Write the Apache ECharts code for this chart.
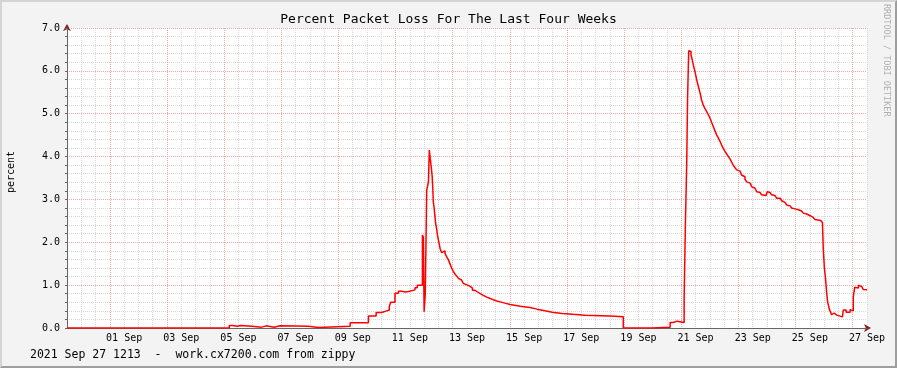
<!DOCTYPE html>
<html><head><meta charset="utf-8">
<script src="https://cdn.jsdelivr.net/npm/echarts@6/dist/echarts.min.js"></script>
<style>
html,body{margin:0;padding:0;background:#f3f3f3;}
#wrap{position:relative;width:897px;height:368px;}
#c{width:897px;height:368px;}
#frame{position:absolute;left:0;top:0;width:897px;height:368px;box-sizing:border-box;
  border-top:2px solid #d4d4d4;border-left:2px solid #d4d4d4;border-right:2px solid #9e9e9e;border-bottom:2px solid #9e9e9e;pointer-events:none;}
</style></head><body>
<div id="wrap"><div id="c"></div><div id="frame"></div></div>
<script>
const TITLE = 'Percent Packet Loss For The Last Four Weeks';
const Y_NAME = 'percent';
const FOOTER = '2021 Sep 27 1213  -  work.cx7200.com from zippy';
const WATERMARK = 'RRDTOOL / TOBI OETIKER';

// x unit: day of September 2021 (5.0 = 05 Sep 00:00, -0.5 = 30 Aug 12:00)
const xRange = [-0.5, 27.5];
const yRange = [0, 7];
const majorGridDays = [1, 3, 5, 7, 9, 11, 13, 15, 17, 19, 21, 23, 25, 27];
const labelDays = [1.5, 3.5, 5.5, 7.5, 9.5, 11.5, 13.5, 15.5, 17.5, 19.5, 21.5, 23.5, 25.5, 27.5];
const labelTexts = ['01 Sep', '03 Sep', '05 Sep', '07 Sep', '09 Sep', '11 Sep', '13 Sep',
                    '15 Sep', '17 Sep', '19 Sep', '21 Sep', '23 Sep', '25 Sep', '27 Sep'];

// [day, percent loss] — value holds from this time until the next point
const lossPoints = [
  [-0.5, 0], [5.18, 0.06], [5.29, 0.04], [5.46, 0.06], [5.58, 0.04], [5.96, 0.02], [6.31, 0.05],
  [6.47, 0.02], [6.75, 0.05], [6.96, 0.04], [7.95, 0.01], [8.30, 0.04], [9.41, 0.12], [10.05, 0.28],
  [10.32, 0.36], [10.51, 0.40], [10.69, 0.42], [10.78, 0.50], [10.83, 0.60], [10.98, 0.81],
  [11.10, 0.86], [11.21, 0.84], [11.33, 0.85], [11.45, 0.89], [11.68, 0.94], [11.76, 1.00],
  [11.94, 2.17], [11.97, 2.12], [12.00, 0.38], [12.04, 0.81], [12.09, 3.22], [12.15, 3.41],
  [12.18, 4.15], [12.23, 3.86], [12.25, 3.75], [12.28, 3.55], [12.30, 3.30], [12.32, 2.95],
  [12.35, 2.80], [12.38, 2.60], [12.40, 2.45], [12.44, 2.30], [12.47, 2.15], [12.50, 2.05],
  [12.53, 1.95], [12.56, 1.85], [12.61, 1.76], [12.67, 1.80], [12.73, 1.74], [12.79, 1.66],
  [12.85, 1.59], [12.91, 1.49], [12.96, 1.40], [13.02, 1.32], [13.08, 1.26], [13.14, 1.21],
  [13.20, 1.16], [13.26, 1.12], [13.31, 1.08], [13.37, 1.04], [13.43, 1.00], [13.52, 0.97],
  [13.61, 0.93], [13.69, 0.88], [13.78, 0.84], [13.87, 0.80], [13.96, 0.76], [14.07, 0.72],
  [14.19, 0.69], [14.31, 0.66], [14.42, 0.63], [14.54, 0.61], [14.66, 0.58], [14.83, 0.55],
  [15.01, 0.51], [15.36, 0.48], [15.71, 0.44], [15.95, 0.40], [16.23, 0.37], [16.48, 0.34],
  [16.83, 0.32], [17.21, 0.30], [17.63, 0.28], [18.51, 0.26], [18.97, 0], [19.96, 0.02],
  [20.61, 0.13], [20.72, 0.16], [20.85, 0.15], [20.92, 0.13], [21.10, 0.67], [21.14, 2.29],
  [21.19, 3.84], [21.22, 5.36], [21.26, 6.47], [21.31, 6.45], [21.34, 6.37], [21.38, 6.27],
  [21.42, 6.14], [21.48, 5.98], [21.54, 5.79], [21.60, 5.63], [21.66, 5.48], [21.71, 5.32],
  [21.77, 5.20], [21.83, 5.12], [21.89, 5.05], [21.95, 4.97], [22.01, 4.89], [22.06, 4.80],
  [22.12, 4.70], [22.18, 4.60], [22.24, 4.50], [22.30, 4.43], [22.36, 4.35], [22.41, 4.27],
  [22.47, 4.19], [22.53, 4.12], [22.59, 4.06], [22.65, 4.00], [22.71, 3.94], [22.76, 3.87],
  [22.82, 3.80], [22.88, 3.74], [22.94, 3.69], [23.00, 3.66], [23.06, 3.62], [23.11, 3.57],
  [23.17, 3.53], [23.23, 3.47], [23.29, 3.41], [23.35, 3.38], [23.41, 3.34], [23.46, 3.30],
  [23.52, 3.26], [23.58, 3.22], [23.64, 3.18], [23.70, 3.16], [23.76, 3.14], [23.81, 3.11],
  [23.87, 3.09], [23.97, 3.08], [24.01, 3.18], [24.06, 3.16], [24.11, 3.14], [24.16, 3.11],
  [24.22, 3.09], [24.28, 3.06], [24.34, 3.03], [24.46, 3.01], [24.51, 2.97], [24.57, 2.93],
  [24.63, 2.90], [24.69, 2.87], [24.75, 2.85], [24.81, 2.82], [24.86, 2.80], [24.92, 2.78],
  [24.98, 2.80], [25.04, 2.76], [25.10, 2.75], [25.16, 2.73], [25.21, 2.71], [25.27, 2.68],
  [25.33, 2.66], [25.39, 2.64], [25.45, 2.62], [25.51, 2.60], [25.56, 2.58], [25.62, 2.56],
  [25.68, 2.53], [25.74, 2.51], [25.88, 2.49], [25.94, 2.46], [25.97, 1.84], [26.01, 1.39],
  [26.05, 1.14], [26.09, 0.81], [26.12, 0.61], [26.16, 0.51], [26.18, 0.44], [26.23, 0.36],
  [26.26, 0.31], [26.30, 0.35], [26.35, 0.31], [26.38, 0.30], [26.44, 0.26], [26.64, 0.28],
  [26.67, 0.42], [26.77, 0.37], [26.91, 0.43], [26.96, 0.40], [27.02, 0.72], [27.07, 0.95],
  [27.14, 0.93], [27.20, 1.00], [27.26, 0.97], [27.31, 0.93], [27.37, 0.90], [27.43, 0.89],
  [27.50, 0.88]
];

const MONO = '"DejaVu Sans Mono", "Liberation Mono", monospace';
const MINOR = '#d8d8d8';
const MAJOR = '#f2a6a6';
const AXIS = '#666666';
const ARROW = '#7f1f1f';

function labelFor(v) {
  let best = 0;
  for (let i = 1; i < labelDays.length; i++) {
    if (Math.abs(labelDays[i] - v) < Math.abs(labelDays[best] - v)) best = i;
  }
  return labelTexts[best];
}

const chart = echarts.init(document.getElementById('c'), null, {renderer: 'canvas'});
chart.setOption({
  backgroundColor: '#f3f3f3',
  animation: false,
  title: [
    {text: TITLE, left: 'center', top: 13, padding: 0,
     textStyle: {fontFamily: MONO, fontSize: 13, fontWeight: 'normal', color: '#000'}},
    {text: FOOTER, left: 30, top: 349, padding: 0,
     textStyle: {fontFamily: MONO, fontSize: 11.5, fontWeight: 'normal', color: '#000'}}
  ],
  grid: {left: 67, top: 28, width: 800, height: 300, show: true, backgroundColor: '#ffffff', borderWidth: 0},
  xAxis: [
    {
      type: 'value', position: 'bottom', min: xRange[0], max: xRange[1], interval: 0.5, z: 0,
      axisLine: {show: true, onZero: false, lineStyle: {color: ARROW, width: 1},
                 symbol: ['none', 'arrow'], symbolSize: [6, 7], symbolOffset: [0, 4]},
      axisTick: {show: false}, axisLabel: {show: false},
      splitLine: {show: true, lineStyle: {color: MINOR, type: 'dotted', width: 1}}
    },
    {
      type: 'value', position: 'bottom', min: xRange[0], max: xRange[1], z: 2,
      axisLine: {show: true, onZero: false, lineStyle: {color: AXIS, width: 1}},
      axisTick: {show: false, customValues: majorGridDays},
      axisLabel: {show: true, customValues: labelDays, formatter: labelFor,
                  fontFamily: MONO, fontSize: 10, color: '#000', margin: 5},
      splitLine: {show: true, lineStyle: {color: MAJOR, type: 'dotted', width: 1}}
    }
  ],
  yAxis: [
    {
      type: 'value', position: 'left', min: yRange[0], max: yRange[1], interval: 0.2, z: 0,
      axisLine: {show: true, onZero: false, lineStyle: {color: ARROW, width: 1},
                 symbol: ['none', 'arrow'], symbolSize: [6, 7], symbolOffset: [0, 4]},
      axisTick: {show: true, length: 2, lineStyle: {color: AXIS}},
      axisLabel: {show: false},
      splitLine: {show: true, lineStyle: {color: MINOR, type: 'dotted', width: 1}}
    },
    {
      type: 'value', position: 'left', min: yRange[0], max: yRange[1], interval: 1, z: 1,
      axisLine: {show: true, onZero: false, lineStyle: {color: AXIS, width: 1}},
      axisTick: {show: true, length: 2, lineStyle: {color: AXIS}},
      axisLabel: {show: true, formatter: v => v.toFixed(1), fontFamily: MONO, fontSize: 10, color: '#000', margin: 7},
      splitLine: {show: true, lineStyle: {color: MAJOR, type: 'dotted', width: 1}}
    }
  ],
  graphic: [
    {type: 'text', x: 11, y: 172, rotation: Math.PI / 2, silent: true,
     style: {text: Y_NAME, fontFamily: MONO, fontSize: 10, fill: '#000', align: 'center', verticalAlign: 'middle'}},
    {type: 'text', x: 886.5, y: 4, rotation: -Math.PI / 2, silent: true,
     style: {text: WATERMARK, fontFamily: MONO, fontSize: 8.5, fill: '#b0b0b0', align: 'left', verticalAlign: 'middle'}}
  ],
  series: [{
    type: 'line', xAxisIndex: 1, yAxisIndex: 1, data: lossPoints, step: 'end',
    showSymbol: false, symbol: 'none', z: 5, clip: true,
    lineStyle: {color: '#ff0000', width: 1.5}
  }]
});
</script>
</body></html>
